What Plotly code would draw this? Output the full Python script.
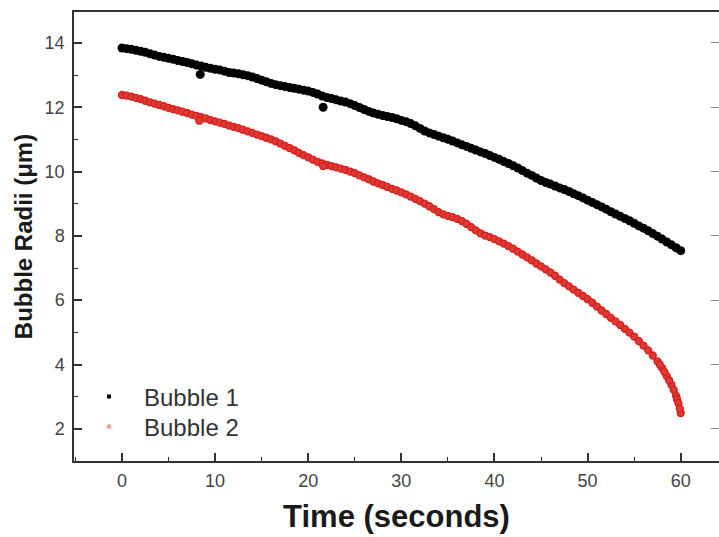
import plotly.graph_objects as go

# Sampling times (s) of the tracked radii
t_grid = [i * 0.5 for i in range(121)]

# Bubble 1 radius (um), one value per 0.5 s
r1 = [
    13.84, 13.82, 13.80, 13.77, 13.74, 13.71, 13.66, 13.62, 13.58, 13.55,
    13.52, 13.49, 13.45, 13.42, 13.39, 13.35, 13.31, 13.28, 13.24, 13.21,
    13.18, 13.16, 13.12, 13.08, 13.06, 13.04, 13.01, 12.98, 12.94, 12.89,
    12.84, 12.79, 12.74, 12.70, 12.67, 12.64, 12.61, 12.59, 12.56, 12.53,
    12.50, 12.46, 12.41, 12.35, 12.30, 12.27, 12.23, 12.19, 12.16, 12.11,
    12.05, 11.99, 11.93, 11.87, 11.82, 11.78, 11.74, 11.71, 11.68, 11.64,
    11.59, 11.55, 11.49, 11.42, 11.34, 11.26, 11.20, 11.15, 11.10, 11.05,
    11.00, 10.95, 10.89, 10.83, 10.78, 10.72, 10.67, 10.61, 10.56, 10.50,
    10.44, 10.38, 10.31, 10.25, 10.18, 10.11, 10.03, 9.95, 9.88, 9.80,
    9.72, 9.66, 9.61, 9.55, 9.49, 9.44, 9.38, 9.31, 9.25, 9.18,
    9.11, 9.04, 8.97, 8.90, 8.83, 8.75, 8.68, 8.61, 8.54, 8.47,
    8.39, 8.31, 8.24, 8.16, 8.07, 7.99, 7.90, 7.81, 7.72, 7.63,
    7.54,
]
# Two mis-tracked frames of Bubble 1
r1_extra_t = [8.4, 21.6]
r1_extra = [13.02, 12.00]

# Bubble 2 radius (um), one value per 0.5 s
r2 = [
    12.38, 12.36, 12.33, 12.29, 12.25, 12.20, 12.15, 12.11, 12.07, 12.03,
    11.98, 11.94, 11.90, 11.86, 11.82, 11.77, 11.73, 11.69, 11.65, 11.60,
    11.56, 11.52, 11.48, 11.43, 11.39, 11.35, 11.30, 11.25, 11.20, 11.15,
    11.10, 11.05, 11.00, 10.94, 10.87, 10.80, 10.73, 10.66, 10.58, 10.51,
    10.44, 10.37, 10.30, 10.25, 10.21, 10.17, 10.13, 10.09, 10.05, 10.00,
    9.95, 9.88, 9.82, 9.76, 9.69, 9.63, 9.58, 9.52, 9.46, 9.41,
    9.35, 9.29, 9.22, 9.15, 9.08, 9.00, 8.92, 8.83, 8.74, 8.67,
    8.62, 8.58, 8.53, 8.46, 8.37, 8.27, 8.17, 8.08, 8.01, 7.96,
    7.90, 7.83, 7.76, 7.68, 7.60, 7.51, 7.42, 7.33, 7.24, 7.14,
    7.05, 6.96, 6.86, 6.76, 6.64, 6.53, 6.43, 6.33, 6.23, 6.13,
    6.03, 5.92, 5.80, 5.68, 5.57, 5.45, 5.34, 5.23, 5.11, 4.99,
    4.87, 4.73, 4.59, 4.44, 4.28, 4.10, 3.89, 3.64, 3.37, 3.03,
    2.49,
]
# Extra frames of Bubble 2 (collapse tail and two mis-tracked frames)
r2_extra_t = [57.75, 58.25, 58.75, 59.25, 59.6, 59.75, 59.9, 8.3, 21.6]
r2_extra = [4.00, 3.77, 3.51, 3.21, 2.92, 2.80, 2.63, 11.58, 10.17]

x_ticks = [0, 10, 20, 30, 40, 50, 60]
y_ticks = [2, 4, 6, 8, 10, 12, 14]

AXIS = "#333333"
TICKFONT = dict(family="Liberation Sans, Arial, sans-serif", size=18, color="#444444")
RED = "#d61f1c"

fig = go.Figure()

fig.add_trace(go.Scatter(
    x=t_grid + r1_extra_t, y=r1 + r1_extra, mode="markers",
    marker=dict(symbol="circle", size=9, color="black", line=dict(width=0)),
    showlegend=False, hoverinfo="skip",
))
fig.add_trace(go.Scatter(
    x=t_grid + r2_extra_t, y=r2 + r2_extra, mode="markers",
    marker=dict(symbol="circle", size=7, color="#dd3a36", line=dict(width=1.3, color=RED)),
    showlegend=False, hoverinfo="skip",
))

# Legend entries (small symbols), one legend box per entry
fig.add_trace(go.Scatter(
    x=[None], y=[None], mode="markers", name="Bubble 1", yaxis="y2", legend="legend",
    marker=dict(symbol="square", size=4, color="black"),
))
fig.add_trace(go.Scatter(
    x=[None], y=[None], mode="markers", name="Bubble 2", yaxis="y2", legend="legend2",
    marker=dict(symbol="circle", size=5, color="#eaa5a5"),
))

LEGEND_STYLE = dict(
    xanchor="left", yanchor="middle", xref="paper", yref="paper",
    bgcolor="rgba(0,0,0,0)", borderwidth=0,
    font=dict(size=24, color="#333333"), itemwidth=60,
)

fig.update_layout(
    width=719, height=537,
    margin=dict(l=74, r=0, t=12, b=76),
    paper_bgcolor="white", plot_bgcolor="white",
    font=dict(family="Liberation Sans, Arial, sans-serif", color="#222222"),
    legend=dict(x=0.0, y=0.1425, **LEGEND_STYLE),
    legend2=dict(x=0.0, y=0.0757, **LEGEND_STYLE),
    xaxis=dict(
        range=[-5.155, 64.11], tickvals=x_ticks,
        ticks="inside", ticklen=8, tickwidth=1.5, tickcolor=AXIS,
        showline=True, linecolor=AXIS, linewidth=1.5, mirror=True,
        showgrid=False, zeroline=False,
        minor=dict(dtick=5, tick0=0, ticks="inside", ticklen=4, tickwidth=1.2,
                   tickcolor=AXIS, showgrid=False),
        tickfont=TICKFONT, ticklabelstandoff=3,
        title=dict(text="<b>Time (seconds)</b>",
                   font=dict(size=31, color="#1a1a1a"), standoff=15),
    ),
    yaxis=dict(
        range=[1.0, 14.96], tickvals=y_ticks,
        ticks="inside", ticklen=8, tickwidth=1.5, tickcolor=AXIS,
        showline=True, linecolor=AXIS, linewidth=1.5, mirror=False,
        showgrid=False, zeroline=False,
        minor=dict(dtick=1, tick0=0, ticks="inside", ticklen=4, tickwidth=1.2,
                   tickcolor=AXIS, showgrid=False),
        tickfont=TICKFONT, ticklabelstandoff=4,
        title=dict(text="<b>Bubble Radii (μm)</b>",
                   font=dict(size=24, color="#1a1a1a"), standoff=5),
    ),
    yaxis2=dict(
        overlaying="y", side="right", range=[1.0, 14.96], tickvals=y_ticks,
        ticks="inside", ticklen=8, tickwidth=1.2, tickcolor="#888888",
        showline=False, showgrid=False, zeroline=False, showticklabels=False,
    ),
)

fig.write_html("out.html")
